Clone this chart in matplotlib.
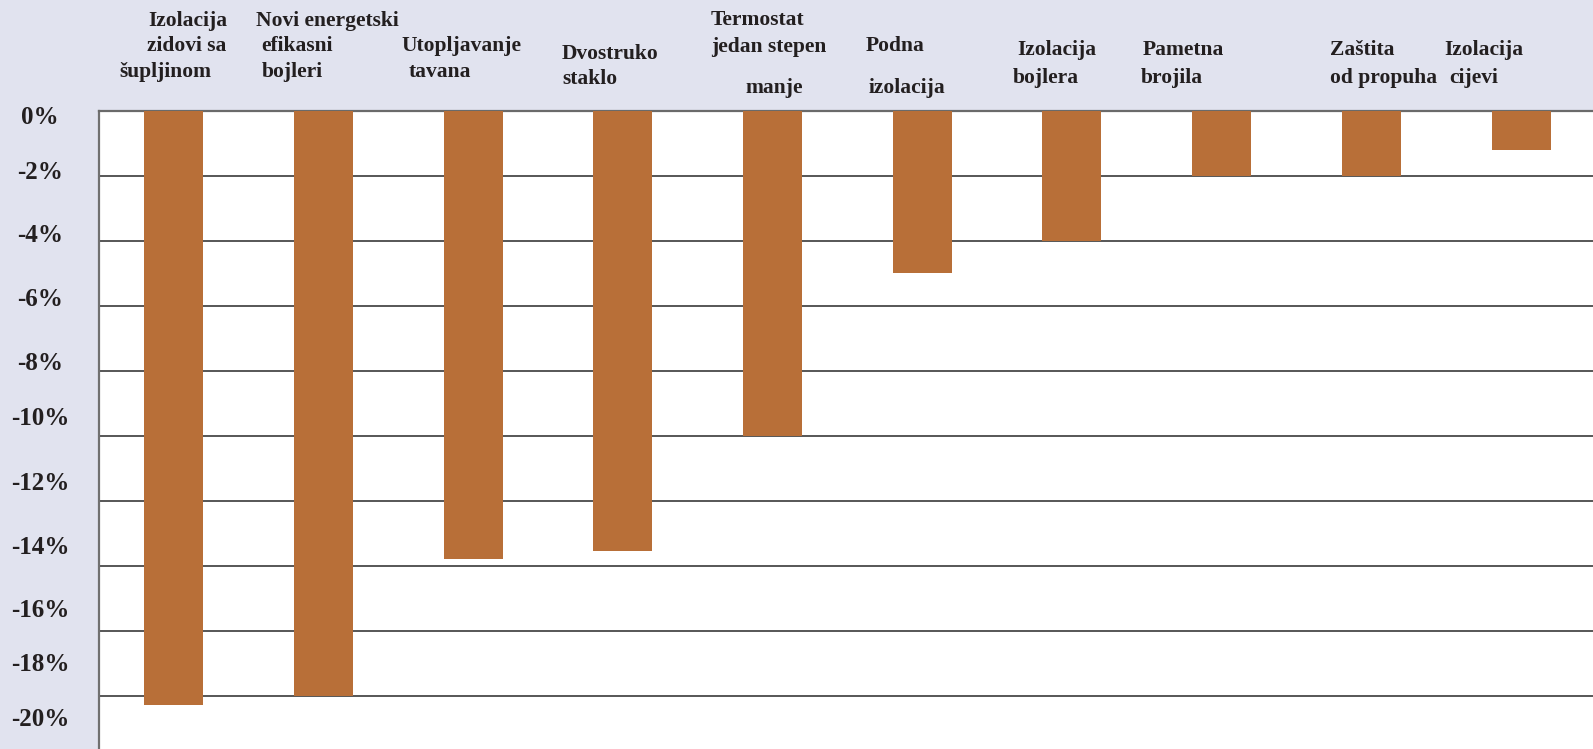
import matplotlib
matplotlib.use("Agg")
import matplotlib.pyplot as plt
import matplotlib.ticker as plticker

# Data: savings per measure (%)
categories = [
    "Izolacija\nzidovi sa\nšupljinom",
    "Novi energetski\nefikasni\nbojleri",
    "Utopljavanje\ntavana",
    "Dvostruko\nstaklo",
    "Termostat\njedan stepen\nmanje",
    "Podna\nizolacija",
    "Izolacija\nbojlera",
    "Pametna\nbrojila",
    "Zaštita\nod propuha",
    "Izolacija\ncijevi",
]
savings = [-18.3, -18.0, -13.8, -13.55, -10.0, -5.0, -4.0, -2.0, -2.0, -1.2]
grid_values = [0, -2, -4, -6, -8, -10, -12, -14, -16, -18]
tick_labels = ["0%", "-2%", "-4%", "-6%", "-8%", "-10%", "-12%", "-14%", "-16%", "-18%", "-20%"]

# Layout (pixels in the 1593x749 picture)
W, H = 1593, 749
label_baselines = [124, 179, 242, 306, 370, 425, 490, 554, 617, 671, 726]
line_pos = [
    [(148, 26), (147, 51), (119, 77)],
    [(256, 26), (261, 51), (262, 77)],
    [(401, 51), (409, 77)],
    [(562, 59), (562, 84)],
    [(711, 25), (711, 52), (745, 93)],
    [(866, 51), (869, 93)],
    [(1017, 55), (1013, 83)],
    [(1143, 55), (1141, 83)],
    [(1330, 55), (1330, 83)],
    [(1444, 55), (1449, 83)],
]

bg = "#E1E3EF"
bar_color = "#B86F38"
text_color = "#231F20"
font = "Liberation Serif"

fig = plt.figure(figsize=(W / 100, H / 100), dpi=100)
fig.patch.set_facecolor(bg)

left_px, top_px, right_px = 98.7, 110.7, 1596
ax = fig.add_axes([left_px / W, 0, (right_px - left_px) / W, (H - top_px) / H])
ax.set_facecolor("white")

x = list(range(len(categories)))
ax.bar(x, savings, width=0.394, color=bar_color, zorder=3)

ax.set_xlim(-0.5, len(categories) - 0.5)
ax.set_ylim(-(H - top_px) / 32.5, 0)
ax.yaxis.set_major_locator(plticker.FixedLocator(grid_values))
ax.set_xticks([])
ax.tick_params(axis="y", length=0, labelleft=False)
ax.grid(axis="y", color="#3a3a3a", linewidth=1.2, zorder=1)
ax.set_axisbelow(True)

for side in ["right", "bottom"]:
    ax.spines[side].set_visible(False)
ax.spines["left"].set_color("#707070")
ax.spines["left"].set_linewidth(1.6)
ax.spines["top"].set_color("#6a6a6a")
ax.spines["top"].set_linewidth(1.6)

# y labels (they sit a bit off the gridlines in the original)
for lab, yb in zip(tick_labels, label_baselines):
    fig.text(40 / W, 1 - yb / H, lab, ha="center", va="baseline",
             fontsize=18, fontweight="bold", family=font, color=text_color)

# category labels above the plot
for name, pos in zip(categories, line_pos):
    for line, (px, py) in zip(name.split("\n"), pos):
        fig.text(px / W, 1 - py / H, line, ha="left", va="baseline",
                 fontsize=15.5, fontweight="bold", family=font, color=text_color)

fig.savefig("out.png", dpi=100, facecolor=bg)
